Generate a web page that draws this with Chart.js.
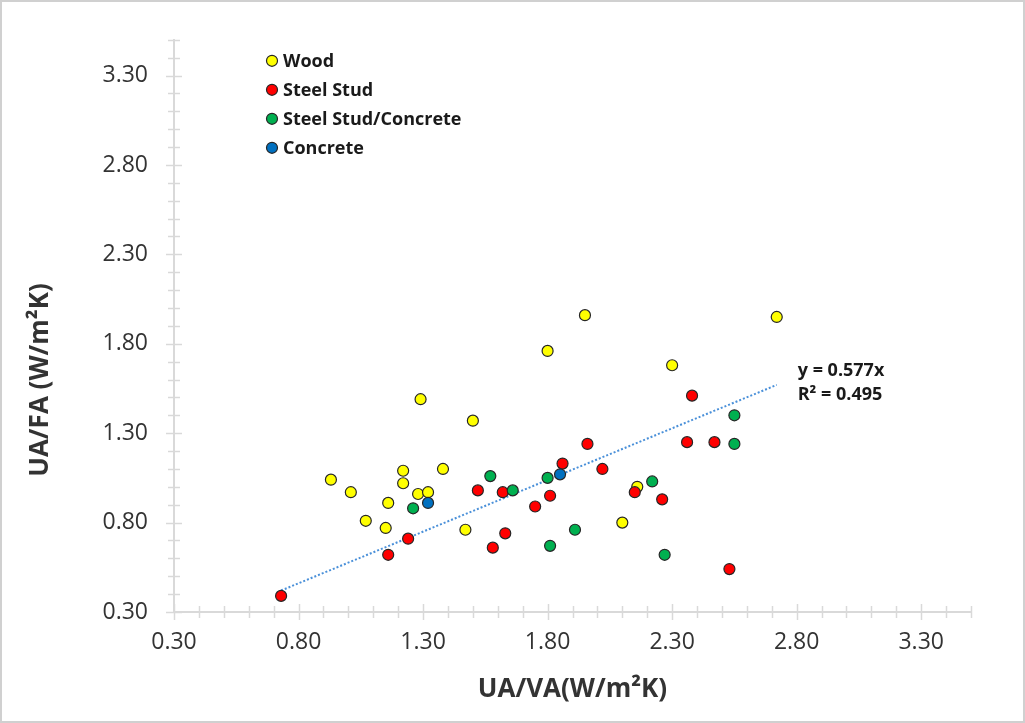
<!DOCTYPE html>
<html>
<head>
<meta charset="utf-8">
<script src="https://cdn.jsdelivr.net/npm/chart.js@4/dist/chart.umd.min.js"></script>
<style>
html,body{margin:0;padding:0;background:#fff;}
#wrap{width:1025px;height:723px;position:relative;}
canvas{display:block;}
</style>
</head>
<body>
<div id="wrap"><canvas id="c" width="1025" height="723"></canvas></div>
<script>
// ---- data ----
const seriesNames = ['Wood', 'Steel Stud', 'Steel Stud/Concrete', 'Concrete'];

const woodX = [0.93, 1.01, 1.07, 1.15, 1.16, 1.22, 1.22, 1.28, 1.29, 1.32, 1.38, 1.47, 1.50, 1.80, 1.95, 2.10, 2.16, 2.30, 2.72];
const woodY = [1.04, 0.97, 0.81, 0.77, 0.91, 1.09, 1.02, 0.96, 1.49, 0.97, 1.10, 0.76, 1.37, 1.76, 1.96, 0.80, 1.00, 1.68, 1.95];

const steelX = [0.73, 1.16, 1.24, 1.52, 1.58, 1.62, 1.63, 1.75, 1.81, 1.86, 1.96, 2.02, 2.15, 2.26, 2.36, 2.38, 2.47, 2.53];
const steelY = [0.39, 0.62, 0.71, 0.98, 0.66, 0.97, 0.74, 0.89, 0.95, 1.13, 1.24, 1.10, 0.97, 0.93, 1.25, 1.51, 1.25, 0.54];

const steelConcX = [1.26, 1.57, 1.66, 1.80, 1.81, 1.91, 2.22, 2.27, 2.55, 2.55];
const steelConcY = [0.88, 1.06, 0.98, 1.05, 0.67, 0.76, 1.03, 0.62, 1.40, 1.24];

const concreteX = [1.32, 1.85];
const concreteY = [0.91, 1.07];

const trendX = [0.73, 2.72];
const trendY = [0.42, 1.57];
const trendLabels = ['y = 0.577x', 'R\u00B2 = 0.495'];

const tickValues = [0.30, 0.80, 1.30, 1.80, 2.30, 2.80, 3.30];
const axisMin = 0.30, axisMax = 3.50, minorStep = 0.10;
const xTitle = 'UA/VA(W/m\u00B2K)';
const yTitle = 'UA/FA (W/m\u00B2K)';

const seriesColors = ['#FFFF00', '#FF0000', '#00B050', '#0070C0'];

// ---- build ----
const pts = (xs, ys) => xs.map((v, i) => ({x: v, y: ys[i]}));
const seriesData = [pts(woodX, woodY), pts(steelX, steelY), pts(steelConcX, steelConcY), pts(concreteX, concreteY)];

const FONT = '"Open Sans", "DejaVu Sans", sans-serif';
const AXIS_COLOR = '#d9d9d9';
const TEXT_COLOR = '#333333';

const datasets = seriesNames.map((name, i) => ({
  type: 'scatter',
  label: name,
  data: seriesData[i],
  backgroundColor: seriesColors[i],
  borderColor: '#262626',
  borderWidth: 1.2,
  pointRadius: 5.5,
  pointHoverRadius: 5.5,
  order: 4 - i
}));
datasets.push({
  type: 'line',
  label: 'trend',
  data: pts(trendX, trendY),
  borderColor: '#4a90d9',
  borderWidth: 2,
  borderDash: [2, 2],
  pointRadius: 0,
  fill: false,
  order: 10
});

const bgPlugin = {
  id: 'bgBorder',
  beforeDraw(chart) {
    const {ctx, width, height} = chart;
    ctx.save();
    ctx.fillStyle = '#fff';
    ctx.fillRect(0, 0, width, height);
    ctx.strokeStyle = '#d0d0d0';
    ctx.lineWidth = 2;
    ctx.strokeRect(1, 1, width - 2, height - 2);
    ctx.restore();
  }
};

const crossTicks = {
  id: 'crossTicks',
  beforeDatasetsDraw(chart) {
    const {ctx, scales: {x, y}, chartArea: a} = chart;
    ctx.save();
    ctx.strokeStyle = AXIS_COLOR;
    ctx.lineWidth = 1.5;
    const n = Math.round((axisMax - axisMin) / minorStep);
    for (let i = 0; i <= n; i++) {
      const v = axisMin + i * minorStep;
      const L = (i % 5 === 0) ? 8 : 6;
      const px = Math.round(x.getPixelForValue(v)) + 0.5;
      ctx.beginPath(); ctx.moveTo(px, a.bottom - L); ctx.lineTo(px, a.bottom + L); ctx.stroke();
      const py = Math.round(y.getPixelForValue(v)) + 0.5;
      ctx.beginPath(); ctx.moveTo(a.left - L, py); ctx.lineTo(a.left + L, py); ctx.stroke();
    }
    ctx.restore();
  }
};

const annotations = {
  id: 'annotations',
  afterDraw(chart) {
    const {ctx, scales: {x, y}, chartArea: a} = chart;
    ctx.save();
    // legend (inside plot, top-left)
    ctx.font = 'bold 18px ' + FONT;
    ctx.textBaseline = 'middle';
    ctx.textAlign = 'left';
    seriesNames.forEach((name, i) => {
      const cx = a.left + 98, cy = a.top + 21 + 29 * i;
      ctx.beginPath();
      ctx.arc(cx, cy, 5.5, 0, Math.PI * 2);
      ctx.fillStyle = seriesColors[i];
      ctx.fill();
      ctx.lineWidth = 1.2;
      ctx.strokeStyle = '#262626';
      ctx.stroke();
      ctx.fillStyle = '#1a1a1a';
      ctx.fillText(name, cx + 11, cy + 1);
    });
    // trendline label
    const ex = x.getPixelForValue(trendX[1]);
    const ey = y.getPixelForValue(trendY[1]);
    ctx.fillStyle = '#1a1a1a';
    ctx.fillText(trendLabels[0], ex + 21, ey - 14);
    ctx.fillText(trendLabels[1], ex + 21, ey + 10);
    // y axis title
    ctx.translate(41, 380);
    ctx.rotate(-Math.PI / 2);
    ctx.textAlign = 'center';
    ctx.font = 'bold 26px ' + FONT;
    ctx.fillStyle = TEXT_COLOR;
    ctx.fillText(yTitle, 0, 0);
    ctx.restore();
  }
};

const fmt = v => Number(v).toFixed(2);

new Chart(document.getElementById('c'), {
  data: {datasets},
  options: {
    responsive: false,
    animation: false,
    devicePixelRatio: 1,
    layout: {padding: {left: 0, top: 37, right: 54, bottom: 0}},
    plugins: {legend: {display: false}, tooltip: {enabled: false}},
    scales: {
      x: {
        type: 'linear', position: 'bottom', min: axisMin, max: axisMax,
        afterBuildTicks: s => { s.ticks = tickValues.map(v => ({value: v})); },
        afterFit: s => { s.height = 111; },
        grid: {display: false, drawTicks: false},
        border: {display: true, color: AXIS_COLOR, width: 2},
        ticks: {callback: fmt, color: TEXT_COLOR, font: {family: FONT, size: 23}, padding: 17, maxRotation: 0, autoSkip: false},
        title: {display: true, text: xTitle, color: TEXT_COLOR, font: {family: FONT, size: 26, weight: 'bold', lineHeight: 1.2}, padding: {top: 0, bottom: 18}}
      },
      y: {
        type: 'linear', position: 'left', min: axisMin, max: axisMax,
        afterBuildTicks: s => { s.ticks = tickValues.map(v => ({value: v})); },
        afterFit: s => { s.width = 174; },
        grid: {display: false, drawTicks: false},
        border: {display: true, color: AXIS_COLOR, width: 2},
        ticks: {callback: fmt, color: TEXT_COLOR, font: {family: FONT, size: 23}, padding: 26, autoSkip: false}
      }
    }
  },
  plugins: [bgPlugin, crossTicks, annotations]
});
</script>
</body>
</html>
